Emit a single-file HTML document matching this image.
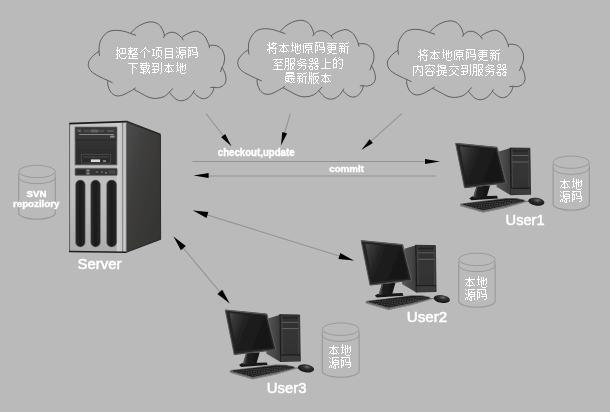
<!DOCTYPE html>
<html><head><meta charset="utf-8"><style>
html,body{margin:0;padding:0;background:#bababa;width:610px;height:412px;overflow:hidden}
#wrap{position:relative;width:610px;height:412px}
svg{position:absolute;left:0;top:0}
.lb{position:absolute;color:#fff;font-family:"Liberation Sans",sans-serif;white-space:nowrap;line-height:1;transform-origin:0 0}
.b{font-weight:bold}
</style></head><body><div id="wrap">
<svg width="610" height="412" viewBox="0 0 610 412">
<rect width="610" height="412" fill="#bababa"/>
<path d="M99.00 51.30 C99.10 49.98 98.93 45.85 99.60 43.40 C100.27 40.95 101.55 38.53 103.00 36.60 C104.45 34.67 106.12 32.85 108.30 31.80 C110.48 30.75 113.50 30.38 116.10 30.30 C118.70 30.22 121.52 30.78 123.90 31.30 C126.28 31.82 129.32 33.05 130.40 33.40 C131.40 32.42 134.30 29.10 136.40 27.50 C138.50 25.90 140.95 24.70 143.00 23.80 C145.05 22.90 146.93 22.38 148.70 22.10 C150.47 21.82 151.97 21.75 153.60 22.10 C155.23 22.45 157.13 23.17 158.50 24.20 C159.87 25.23 160.90 26.80 161.80 28.30 C162.70 29.80 163.47 31.92 163.90 33.20 C164.33 34.48 164.32 35.53 164.40 36.00 C165.02 35.50 166.58 33.62 168.10 33.00 C169.62 32.38 171.85 32.07 173.50 32.30 C175.15 32.53 176.65 33.53 178.00 34.40 C179.35 35.27 181.00 36.98 181.60 37.50 C182.52 36.90 184.98 34.92 187.10 33.90 C189.22 32.88 192.35 31.73 194.30 31.40 C196.25 31.07 197.15 31.18 198.80 31.90 C200.45 32.62 202.78 34.17 204.20 35.70 C205.62 37.23 206.50 39.50 207.30 41.10 C208.10 42.70 208.72 44.60 209.00 45.30 C210.23 45.37 214.27 45.00 216.40 45.70 C218.53 46.40 220.45 47.73 221.80 49.50 C223.15 51.27 224.15 54.03 224.50 56.30 C224.85 58.57 224.30 61.28 223.90 63.10 C223.50 64.92 222.40 66.52 222.10 67.20 C222.62 68.33 224.57 71.73 225.20 74.00 C225.83 76.27 226.23 78.88 225.90 80.80 C225.57 82.72 224.45 84.37 223.20 85.50 C221.95 86.63 219.90 87.32 218.40 87.60 C216.90 87.88 214.90 87.27 214.20 87.20 C213.85 88.13 213.10 91.13 212.10 92.80 C211.10 94.47 209.67 96.22 208.20 97.20 C206.73 98.18 204.95 98.78 203.30 98.70 C201.65 98.62 199.95 97.77 198.30 96.70 C196.65 95.63 194.22 93.03 193.40 92.30 C192.75 93.12 190.97 95.88 189.50 97.20 C188.03 98.52 186.23 99.63 184.60 100.20 C182.97 100.77 181.35 100.93 179.70 100.60 C178.05 100.27 176.43 99.58 174.70 98.20 C172.97 96.82 170.20 93.28 169.30 92.30 C168.42 93.02 166.13 95.58 164.00 96.60 C161.87 97.62 159.00 98.28 156.50 98.40 C154.00 98.52 151.67 98.20 149.00 97.30 C146.33 96.40 143.07 94.33 140.50 93.00 C137.93 91.67 134.75 89.92 133.60 89.30 C132.80 89.75 130.67 91.02 128.80 92.00 C126.93 92.98 124.53 94.58 122.40 95.20 C120.27 95.82 117.95 96.23 116.00 95.70 C114.05 95.17 112.03 93.68 110.70 92.00 C109.37 90.32 108.50 87.53 108.00 85.60 C107.50 83.67 107.75 81.27 107.70 80.40 C106.98 80.08 105.25 79.38 103.40 78.50 C101.55 77.62 98.70 76.38 96.60 75.10 C94.50 73.82 92.17 72.42 90.80 70.80 C89.43 69.18 88.65 67.10 88.40 65.40 C88.15 63.70 88.42 62.30 89.30 60.60 C90.18 58.90 92.08 56.75 93.70 55.20 C95.32 53.65 98.12 51.95 99.00 51.30 Z" fill="none" stroke="#4e4e4e" stroke-width="0.85"/>
<path d=" M99.00 51.30 L99.50 55.90 M130.40 33.40 L136.00 35.30 M164.40 36.00 L163.30 37.80 M181.60 37.50 L183.40 40.20 M209.00 45.30 L209.60 48.20 M222.10 67.20 L220.50 72.00 M214.20 87.20 L210.40 87.60 M193.40 92.30 L194.40 90.20 M169.30 92.30 L172.80 88.40 M133.60 89.30 L135.70 87.80 M107.70 80.40 L112.50 82.70" fill="none" stroke="#4e4e4e" stroke-width="0.85"/>
<path d="M248.40 49.70 C248.50 48.38 248.33 44.25 249.00 41.80 C249.67 39.35 250.95 36.93 252.40 35.00 C253.85 33.07 255.52 31.25 257.70 30.20 C259.88 29.15 262.90 28.78 265.50 28.70 C268.10 28.62 270.92 29.18 273.30 29.70 C275.68 30.22 278.72 31.45 279.80 31.80 C280.80 30.82 283.70 27.50 285.80 25.90 C287.90 24.30 290.35 23.10 292.40 22.20 C294.45 21.30 296.33 20.78 298.10 20.50 C299.87 20.22 301.37 20.15 303.00 20.50 C304.63 20.85 306.53 21.57 307.90 22.60 C309.27 23.63 310.30 25.20 311.20 26.70 C312.10 28.20 312.87 30.32 313.30 31.60 C313.73 32.88 313.72 33.93 313.80 34.40 C314.42 33.90 315.98 32.02 317.50 31.40 C319.02 30.78 321.25 30.47 322.90 30.70 C324.55 30.93 326.05 31.93 327.40 32.80 C328.75 33.67 330.40 35.38 331.00 35.90 C331.92 35.30 334.38 33.32 336.50 32.30 C338.62 31.28 341.75 30.13 343.70 29.80 C345.65 29.47 346.55 29.58 348.20 30.30 C349.85 31.02 352.18 32.57 353.60 34.10 C355.02 35.63 355.90 37.90 356.70 39.50 C357.50 41.10 358.12 43.00 358.40 43.70 C359.63 43.77 363.67 43.40 365.80 44.10 C367.93 44.80 369.85 46.13 371.20 47.90 C372.55 49.67 373.55 52.43 373.90 54.70 C374.25 56.97 373.70 59.68 373.30 61.50 C372.90 63.32 371.80 64.92 371.50 65.60 C372.02 66.73 373.97 70.13 374.60 72.40 C375.23 74.67 375.63 77.28 375.30 79.20 C374.97 81.12 373.85 82.77 372.60 83.90 C371.35 85.03 369.30 85.72 367.80 86.00 C366.30 86.28 364.30 85.67 363.60 85.60 C363.25 86.53 362.50 89.53 361.50 91.20 C360.50 92.87 359.07 94.62 357.60 95.60 C356.13 96.58 354.35 97.18 352.70 97.10 C351.05 97.02 349.35 96.17 347.70 95.10 C346.05 94.03 343.62 91.43 342.80 90.70 C342.15 91.52 340.37 94.28 338.90 95.60 C337.43 96.92 335.63 98.03 334.00 98.60 C332.37 99.17 330.75 99.33 329.10 99.00 C327.45 98.67 325.83 97.98 324.10 96.60 C322.37 95.22 319.60 91.68 318.70 90.70 C317.82 91.42 315.53 93.98 313.40 95.00 C311.27 96.02 308.40 96.68 305.90 96.80 C303.40 96.92 301.07 96.60 298.40 95.70 C295.73 94.80 292.47 92.73 289.90 91.40 C287.33 90.07 284.15 88.32 283.00 87.70 C282.20 88.15 280.07 89.42 278.20 90.40 C276.33 91.38 273.93 92.98 271.80 93.60 C269.67 94.22 267.35 94.63 265.40 94.10 C263.45 93.57 261.43 92.08 260.10 90.40 C258.77 88.72 257.90 85.93 257.40 84.00 C256.90 82.07 257.15 79.67 257.10 78.80 C256.38 78.48 254.65 77.78 252.80 76.90 C250.95 76.02 248.10 74.78 246.00 73.50 C243.90 72.22 241.57 70.82 240.20 69.20 C238.83 67.58 238.05 65.50 237.80 63.80 C237.55 62.10 237.82 60.70 238.70 59.00 C239.58 57.30 241.48 55.15 243.10 53.60 C244.72 52.05 247.52 50.35 248.40 49.70 Z" fill="none" stroke="#4e4e4e" stroke-width="0.85"/>
<path d=" M248.40 49.70 L248.90 54.30 M279.80 31.80 L285.40 33.70 M313.80 34.40 L312.70 36.20 M331.00 35.90 L332.80 38.60 M358.40 43.70 L359.00 46.60 M371.50 65.60 L369.90 70.40 M363.60 85.60 L359.80 86.00 M342.80 90.70 L343.80 88.60 M318.70 90.70 L322.20 86.80 M283.00 87.70 L285.10 86.20 M257.10 78.80 L261.90 81.10" fill="none" stroke="#4e4e4e" stroke-width="0.85"/>
<path d="M398.00 50.30 C398.10 48.98 397.93 44.85 398.60 42.40 C399.27 39.95 400.55 37.53 402.00 35.60 C403.45 33.67 405.12 31.85 407.30 30.80 C409.48 29.75 412.50 29.38 415.10 29.30 C417.70 29.22 420.52 29.78 422.90 30.30 C425.28 30.82 428.32 32.05 429.40 32.40 C430.40 31.42 433.30 28.10 435.40 26.50 C437.50 24.90 439.95 23.70 442.00 22.80 C444.05 21.90 445.93 21.38 447.70 21.10 C449.47 20.82 450.97 20.75 452.60 21.10 C454.23 21.45 456.13 22.17 457.50 23.20 C458.87 24.23 459.90 25.80 460.80 27.30 C461.70 28.80 462.47 30.92 462.90 32.20 C463.33 33.48 463.32 34.53 463.40 35.00 C464.02 34.50 465.58 32.62 467.10 32.00 C468.62 31.38 470.85 31.07 472.50 31.30 C474.15 31.53 475.65 32.53 477.00 33.40 C478.35 34.27 480.00 35.98 480.60 36.50 C481.52 35.90 483.98 33.92 486.10 32.90 C488.22 31.88 491.35 30.73 493.30 30.40 C495.25 30.07 496.15 30.18 497.80 30.90 C499.45 31.62 501.78 33.17 503.20 34.70 C504.62 36.23 505.50 38.50 506.30 40.10 C507.10 41.70 507.72 43.60 508.00 44.30 C509.23 44.37 513.27 44.00 515.40 44.70 C517.53 45.40 519.45 46.73 520.80 48.50 C522.15 50.27 523.15 53.03 523.50 55.30 C523.85 57.57 523.30 60.28 522.90 62.10 C522.50 63.92 521.40 65.52 521.10 66.20 C521.62 67.33 523.57 70.73 524.20 73.00 C524.83 75.27 525.23 77.88 524.90 79.80 C524.57 81.72 523.45 83.37 522.20 84.50 C520.95 85.63 518.90 86.32 517.40 86.60 C515.90 86.88 513.90 86.27 513.20 86.20 C512.85 87.13 512.10 90.13 511.10 91.80 C510.10 93.47 508.67 95.22 507.20 96.20 C505.73 97.18 503.95 97.78 502.30 97.70 C500.65 97.62 498.95 96.77 497.30 95.70 C495.65 94.63 493.22 92.03 492.40 91.30 C491.75 92.12 489.97 94.88 488.50 96.20 C487.03 97.52 485.23 98.63 483.60 99.20 C481.97 99.77 480.35 99.93 478.70 99.60 C477.05 99.27 475.43 98.58 473.70 97.20 C471.97 95.82 469.20 92.28 468.30 91.30 C467.42 92.02 465.13 94.58 463.00 95.60 C460.87 96.62 458.00 97.28 455.50 97.40 C453.00 97.52 450.67 97.20 448.00 96.30 C445.33 95.40 442.07 93.33 439.50 92.00 C436.93 90.67 433.75 88.92 432.60 88.30 C431.80 88.75 429.67 90.02 427.80 91.00 C425.93 91.98 423.53 93.58 421.40 94.20 C419.27 94.82 416.95 95.23 415.00 94.70 C413.05 94.17 411.03 92.68 409.70 91.00 C408.37 89.32 407.50 86.53 407.00 84.60 C406.50 82.67 406.75 80.27 406.70 79.40 C405.98 79.08 404.25 78.38 402.40 77.50 C400.55 76.62 397.70 75.38 395.60 74.10 C393.50 72.82 391.17 71.42 389.80 69.80 C388.43 68.18 387.65 66.10 387.40 64.40 C387.15 62.70 387.42 61.30 388.30 59.60 C389.18 57.90 391.08 55.75 392.70 54.20 C394.32 52.65 397.12 50.95 398.00 50.30 Z" fill="none" stroke="#4e4e4e" stroke-width="0.85"/>
<path d=" M398.00 50.30 L398.50 54.90 M429.40 32.40 L435.00 34.30 M463.40 35.00 L462.30 36.80 M480.60 36.50 L482.40 39.20 M508.00 44.30 L508.60 47.20 M521.10 66.20 L519.50 71.00 M513.20 86.20 L509.40 86.60 M492.40 91.30 L493.40 89.20 M468.30 91.30 L471.80 87.40 M432.60 88.30 L434.70 86.80 M406.70 79.40 L411.50 81.70" fill="none" stroke="#4e4e4e" stroke-width="0.85"/>
<path d="M117 47h1v1h-1zM130 47h1v1h-1zM145 47h1v1h-1zM156 47h6v1h-6zM176 47h1v1h-1zM179 47h7v1h-7zM188 47h9v1h-9zM117 48h1v1h-1zM120 48h6v1h-6zM128 48h5v1h-5zM134 48h4v1h-4zM144 48h2v1h-2zM158 48h1v1h-1zM165 48h8v1h-8zM177 48h1v1h-1zM179 48h1v1h-1zM189 48h1v1h-1zM196 48h1v1h-1zM117 49h1v1h-1zM119 49h1v1h-1zM122 49h1v1h-1zM125 49h1v1h-1zM130 49h1v1h-1zM134 49h1v1h-1zM136 49h1v1h-1zM143 49h1v1h-1zM146 49h1v1h-1zM152 49h3v1h-3zM158 49h1v1h-1zM165 49h1v1h-1zM172 49h1v1h-1zM179 49h1v1h-1zM182 49h1v1h-1zM188 49h1v1h-1zM192 49h1v1h-1zM196 49h1v1h-1zM116 50h4v1h-4zM122 50h1v1h-1zM125 50h1v1h-1zM128 50h7v1h-7zM136 50h1v1h-1zM142 50h1v1h-1zM147 50h1v1h-1zM153 50h1v1h-1zM156 50h6v1h-6zM165 50h1v1h-1zM172 50h1v1h-1zM179 50h1v1h-1zM181 50h5v1h-5zM188 50h3v1h-3zM192 50h1v1h-1zM196 50h1v1h-1zM117 51h1v1h-1zM119 51h1v1h-1zM122 51h1v1h-1zM125 51h1v1h-1zM129 51h3v1h-3zM135 51h1v1h-1zM141 51h1v1h-1zM144 51h1v1h-1zM148 51h2v1h-2zM153 51h1v1h-1zM156 51h1v1h-1zM161 51h1v1h-1zM165 51h8v1h-8zM176 51h1v1h-1zM179 51h2v1h-2zM185 51h1v1h-1zM188 51h1v1h-1zM190 51h1v1h-1zM192 51h1v1h-1zM196 51h1v1h-1zM117 52h1v1h-1zM119 52h1v1h-1zM122 52h1v1h-1zM125 52h1v1h-1zM129 52h3v1h-3zM135 52h2v1h-2zM140 52h1v1h-1zM144 52h1v1h-1zM153 52h1v1h-1zM156 52h1v1h-1zM158 52h1v1h-1zM161 52h1v1h-1zM165 52h1v1h-1zM172 52h1v1h-1zM177 52h1v1h-1zM179 52h7v1h-7zM188 52h1v1h-1zM190 52h1v1h-1zM193 52h5v1h-5zM117 53h2v1h-2zM120 53h6v1h-6zM128 53h1v1h-1zM130 53h1v1h-1zM133 53h2v1h-2zM137 53h1v1h-1zM144 53h1v1h-1zM153 53h1v1h-1zM156 53h1v1h-1zM158 53h1v1h-1zM161 53h1v1h-1zM165 53h1v1h-1zM172 53h1v1h-1zM179 53h2v1h-2zM185 53h1v1h-1zM188 53h1v1h-1zM190 53h1v1h-1zM197 53h1v1h-1zM116 54h2v1h-2zM119 54h1v1h-1zM128 54h10v1h-10zM144 54h1v1h-1zM153 54h1v1h-1zM156 54h1v1h-1zM158 54h1v1h-1zM161 54h1v1h-1zM165 54h8v1h-8zM179 54h1v1h-1zM181 54h5v1h-5zM188 54h1v1h-1zM190 54h1v1h-1zM192 54h6v1h-6zM117 55h1v1h-1zM119 55h1v1h-1zM132 55h1v1h-1zM144 55h1v1h-1zM152 55h3v1h-3zM156 55h1v1h-1zM158 55h1v1h-1zM161 55h1v1h-1zM165 55h1v1h-1zM172 55h1v1h-1zM177 55h2v1h-2zM181 55h2v1h-2zM188 55h3v1h-3zM197 55h1v1h-1zM117 56h1v1h-1zM119 56h1v1h-1zM126 56h1v1h-1zM129 56h1v1h-1zM132 56h5v1h-5zM144 56h1v1h-1zM158 56h2v1h-2zM165 56h1v1h-1zM172 56h1v1h-1zM176 56h1v1h-1zM178 56h1v1h-1zM180 56h1v1h-1zM182 56h1v1h-1zM185 56h1v1h-1zM188 56h1v1h-1zM197 56h1v1h-1zM117 57h1v1h-1zM120 57h1v1h-1zM125 57h1v1h-1zM129 57h1v1h-1zM132 57h1v1h-1zM144 57h1v1h-1zM157 57h1v1h-1zM160 57h1v1h-1zM165 57h8v1h-8zM176 57h1v1h-1zM178 57h1v1h-1zM180 57h1v1h-1zM182 57h1v1h-1zM185 57h1v1h-1zM188 57h1v1h-1zM195 57h2v1h-2zM116 58h2v1h-2zM121 58h5v1h-5zM128 58h10v1h-10zM155 58h2v1h-2zM161 58h1v1h-1zM165 58h1v1h-1zM172 58h1v1h-1zM181 58h2v1h-2zM146 62h1v1h-1zM161 62h1v1h-1zM177 62h1v1h-1zM128 63h10v1h-10zM140 63h7v1h-7zM148 63h1v1h-1zM152 63h7v1h-7zM161 63h1v1h-1zM168 63h1v1h-1zM177 63h1v1h-1zM180 63h1v1h-1zM182 63h1v1h-1zM132 64h1v1h-1zM142 64h1v1h-1zM146 64h1v1h-1zM153 64h1v1h-1zM158 64h1v1h-1zM161 64h1v1h-1zM168 64h1v1h-1zM177 64h1v1h-1zM180 64h1v1h-1zM182 64h1v1h-1zM185 64h1v1h-1zM132 65h1v1h-1zM140 65h10v1h-10zM153 65h1v1h-1zM156 65h1v1h-1zM158 65h1v1h-1zM161 65h1v1h-1zM164 65h10v1h-10zM176 65h3v1h-3zM180 65h1v1h-1zM182 65h1v1h-1zM184 65h2v1h-2zM132 66h2v1h-2zM141 66h1v1h-1zM146 66h1v1h-1zM149 66h1v1h-1zM152 66h7v1h-7zM161 66h1v1h-1zM167 66h3v1h-3zM177 66h1v1h-1zM180 66h4v1h-4zM185 66h1v1h-1zM132 67h1v1h-1zM134 67h2v1h-2zM140 67h7v1h-7zM148 67h1v1h-1zM158 67h1v1h-1zM161 67h1v1h-1zM167 67h2v1h-2zM170 67h1v1h-1zM177 67h1v1h-1zM179 67h2v1h-2zM182 67h1v1h-1zM185 67h1v1h-1zM132 68h1v1h-1zM136 68h1v1h-1zM141 68h1v1h-1zM143 68h1v1h-1zM146 68h1v1h-1zM148 68h1v1h-1zM154 68h1v1h-1zM158 68h1v1h-1zM161 68h1v1h-1zM166 68h1v1h-1zM168 68h1v1h-1zM171 68h1v1h-1zM177 68h1v1h-1zM180 68h1v1h-1zM182 68h1v1h-1zM185 68h1v1h-1zM132 69h1v1h-1zM141 69h5v1h-5zM147 69h2v1h-2zM152 69h7v1h-7zM161 69h1v1h-1zM165 69h1v1h-1zM168 69h1v1h-1zM171 69h1v1h-1zM177 69h1v1h-1zM180 69h1v1h-1zM182 69h1v1h-1zM185 69h1v1h-1zM132 70h1v1h-1zM143 70h1v1h-1zM147 70h1v1h-1zM154 70h1v1h-1zM158 70h1v1h-1zM161 70h1v1h-1zM165 70h1v1h-1zM168 70h1v1h-1zM172 70h1v1h-1zM177 70h2v1h-2zM180 70h1v1h-1zM182 70h1v1h-1zM184 70h1v1h-1zM132 71h1v1h-1zM143 71h3v1h-3zM147 71h1v1h-1zM149 71h1v1h-1zM154 71h1v1h-1zM157 71h1v1h-1zM161 71h1v1h-1zM164 71h1v1h-1zM166 71h6v1h-6zM173 71h1v1h-1zM176 71h1v1h-1zM180 71h1v1h-1zM132 72h1v1h-1zM140 72h4v1h-4zM146 72h1v1h-1zM148 72h2v1h-2zM152 72h5v1h-5zM161 72h1v1h-1zM168 72h1v1h-1zM180 72h1v1h-1zM185 72h1v1h-1zM132 73h1v1h-1zM143 73h1v1h-1zM145 73h1v1h-1zM149 73h1v1h-1zM160 73h1v1h-1zM181 73h4v1h-4zM269 42h1v1h-1zM273 42h1v1h-1zM292 42h1v1h-1zM315 42h9v1h-9zM348 42h1v1h-1zM269 43h1v1h-1zM272 43h5v1h-5zM283 43h1v1h-1zM292 43h1v1h-1zM295 43h1v1h-1zM297 43h1v1h-1zM304 43h9v1h-9zM316 43h1v1h-1zM323 43h1v1h-1zM327 43h10v1h-10zM339 43h5v1h-5zM345 43h3v1h-3zM267 44h1v1h-1zM269 44h1v1h-1zM271 44h2v1h-2zM275 44h1v1h-1zM283 44h1v1h-1zM292 44h1v1h-1zM295 44h1v1h-1zM297 44h1v1h-1zM300 44h1v1h-1zM303 44h1v1h-1zM308 44h1v1h-1zM315 44h1v1h-1zM319 44h1v1h-1zM323 44h1v1h-1zM331 44h1v1h-1zM344 44h1v1h-1zM268 45h2v1h-2zM273 45h2v1h-2zM279 45h10v1h-10zM291 45h3v1h-3zM295 45h1v1h-1zM297 45h1v1h-1zM299 45h2v1h-2zM303 45h1v1h-1zM305 45h7v1h-7zM315 45h3v1h-3zM319 45h1v1h-1zM323 45h1v1h-1zM328 45h8v1h-8zM340 45h1v1h-1zM342 45h1v1h-1zM344 45h1v1h-1zM269 46h1v1h-1zM273 46h1v1h-1zM282 46h3v1h-3zM292 46h1v1h-1zM295 46h4v1h-4zM300 46h1v1h-1zM303 46h1v1h-1zM305 46h1v1h-1zM311 46h1v1h-1zM315 46h1v1h-1zM317 46h1v1h-1zM319 46h1v1h-1zM323 46h1v1h-1zM327 46h1v1h-1zM331 46h1v1h-1zM335 46h1v1h-1zM339 46h5v1h-5zM345 46h4v1h-4zM269 47h4v1h-4zM275 47h1v1h-1zM282 47h2v1h-2zM285 47h1v1h-1zM292 47h1v1h-1zM294 47h2v1h-2zM297 47h1v1h-1zM300 47h1v1h-1zM303 47h1v1h-1zM305 47h7v1h-7zM315 47h1v1h-1zM317 47h1v1h-1zM320 47h5v1h-5zM328 47h8v1h-8zM341 47h1v1h-1zM344 47h1v1h-1zM347 47h1v1h-1zM269 48h8v1h-8zM281 48h1v1h-1zM283 48h1v1h-1zM286 48h1v1h-1zM292 48h1v1h-1zM295 48h1v1h-1zM297 48h1v1h-1zM300 48h1v1h-1zM303 48h1v1h-1zM305 48h1v1h-1zM311 48h1v1h-1zM315 48h1v1h-1zM317 48h1v1h-1zM324 48h1v1h-1zM327 48h1v1h-1zM331 48h1v1h-1zM335 48h1v1h-1zM339 48h6v1h-6zM347 48h1v1h-1zM267 49h3v1h-3zM275 49h1v1h-1zM280 49h1v1h-1zM283 49h1v1h-1zM286 49h1v1h-1zM292 49h1v1h-1zM295 49h1v1h-1zM297 49h1v1h-1zM300 49h1v1h-1zM303 49h1v1h-1zM306 49h6v1h-6zM315 49h1v1h-1zM317 49h1v1h-1zM319 49h6v1h-6zM328 49h8v1h-8zM341 49h1v1h-1zM344 49h1v1h-1zM347 49h1v1h-1zM267 50h1v1h-1zM269 50h1v1h-1zM271 50h1v1h-1zM275 50h1v1h-1zM280 50h1v1h-1zM283 50h1v1h-1zM287 50h1v1h-1zM292 50h2v1h-2zM295 50h1v1h-1zM297 50h1v1h-1zM299 50h1v1h-1zM303 50h1v1h-1zM306 50h1v1h-1zM308 50h1v1h-1zM315 50h3v1h-3zM324 50h1v1h-1zM328 50h1v1h-1zM331 50h1v1h-1zM339 50h1v1h-1zM341 50h2v1h-2zM344 50h1v1h-1zM347 50h1v1h-1zM269 51h1v1h-1zM272 51h1v1h-1zM275 51h1v1h-1zM279 51h1v1h-1zM281 51h6v1h-6zM288 51h1v1h-1zM291 51h1v1h-1zM295 51h1v1h-1zM303 51h1v1h-1zM305 51h1v1h-1zM308 51h1v1h-1zM311 51h1v1h-1zM315 51h1v1h-1zM324 51h1v1h-1zM329 51h2v1h-2zM339 51h1v1h-1zM341 51h1v1h-1zM343 51h2v1h-2zM347 51h1v1h-1zM269 52h1v1h-1zM275 52h1v1h-1zM283 52h1v1h-1zM295 52h1v1h-1zM300 52h1v1h-1zM303 52h1v1h-1zM305 52h1v1h-1zM308 52h1v1h-1zM312 52h1v1h-1zM315 52h1v1h-1zM322 52h2v1h-2zM329 52h3v1h-3zM341 52h1v1h-1zM344 52h1v1h-1zM347 52h1v1h-1zM269 53h1v1h-1zM273 53h3v1h-3zM296 53h4v1h-4zM308 53h1v1h-1zM327 53h2v1h-2zM332 53h5v1h-5zM340 53h1v1h-1zM347 53h1v1h-1zM335 57h1v1h-1zM339 57h1v1h-1zM285 58h4v1h-4zM290 58h5v1h-5zM300 58h1v1h-1zM310 58h3v1h-3zM315 58h3v1h-3zM325 58h1v1h-1zM334 58h1v1h-1zM338 58h1v1h-1zM273 59h10v1h-10zM285 59h1v1h-1zM288 59h1v1h-1zM290 59h1v1h-1zM294 59h1v1h-1zM300 59h6v1h-6zM309 59h1v1h-1zM312 59h1v1h-1zM314 59h1v1h-1zM317 59h1v1h-1zM325 59h1v1h-1zM333 59h4v1h-4zM339 59h4v1h-4zM276 60h1v1h-1zM285 60h1v1h-1zM288 60h1v1h-1zM290 60h1v1h-1zM294 60h1v1h-1zM299 60h1v1h-1zM305 60h1v1h-1zM309 60h1v1h-1zM312 60h1v1h-1zM314 60h1v1h-1zM317 60h1v1h-1zM325 60h1v1h-1zM333 60h1v1h-1zM336 60h1v1h-1zM338 60h1v1h-1zM342 60h1v1h-1zM275 61h1v1h-1zM280 61h1v1h-1zM285 61h4v1h-4zM290 61h1v1h-1zM292 61h1v1h-1zM294 61h1v1h-1zM297 61h2v1h-2zM300 61h1v1h-1zM303 61h2v1h-2zM310 61h3v1h-3zM315 61h3v1h-3zM325 61h1v1h-1zM333 61h1v1h-1zM336 61h2v1h-2zM342 61h1v1h-1zM274 62h1v1h-1zM277 62h5v1h-5zM285 62h1v1h-1zM288 62h1v1h-1zM290 62h1v1h-1zM293 62h1v1h-1zM301 62h2v1h-2zM313 62h1v1h-1zM315 62h1v1h-1zM325 62h6v1h-6zM333 62h1v1h-1zM336 62h1v1h-1zM342 62h1v1h-1zM275 63h2v1h-2zM282 63h1v1h-1zM285 63h1v1h-1zM288 63h1v1h-1zM290 63h5v1h-5zM298 63h3v1h-3zM303 63h4v1h-4zM309 63h10v1h-10zM325 63h1v1h-1zM333 63h4v1h-4zM339 63h1v1h-1zM342 63h1v1h-1zM277 64h1v1h-1zM285 64h1v1h-1zM288 64h1v1h-1zM290 64h2v1h-2zM294 64h1v1h-1zM297 64h1v1h-1zM301 64h1v1h-1zM311 64h1v1h-1zM315 64h1v1h-1zM325 64h1v1h-1zM333 64h1v1h-1zM336 64h1v1h-1zM340 64h1v1h-1zM342 64h1v1h-1zM274 65h8v1h-8zM285 65h4v1h-4zM290 65h2v1h-2zM294 65h1v1h-1zM298 65h8v1h-8zM310 65h1v1h-1zM316 65h2v1h-2zM325 65h1v1h-1zM333 65h1v1h-1zM336 65h1v1h-1zM342 65h1v1h-1zM277 66h1v1h-1zM285 66h1v1h-1zM288 66h1v1h-1zM290 66h1v1h-1zM292 66h2v1h-2zM301 66h1v1h-1zM305 66h1v1h-1zM308 66h5v1h-5zM315 66h4v1h-4zM325 66h1v1h-1zM333 66h1v1h-1zM336 66h1v1h-1zM342 66h1v1h-1zM277 67h1v1h-1zM285 67h1v1h-1zM288 67h1v1h-1zM290 67h1v1h-1zM292 67h1v1h-1zM300 67h1v1h-1zM305 67h1v1h-1zM309 67h1v1h-1zM312 67h1v1h-1zM314 67h1v1h-1zM317 67h1v1h-1zM325 67h1v1h-1zM333 67h4v1h-4zM341 67h1v1h-1zM277 68h1v1h-1zM284 68h1v1h-1zM288 68h1v1h-1zM290 68h1v1h-1zM292 68h2v1h-2zM299 68h1v1h-1zM305 68h1v1h-1zM309 68h1v1h-1zM312 68h1v1h-1zM314 68h1v1h-1zM317 68h1v1h-1zM321 68h10v1h-10zM333 68h1v1h-1zM339 68h3v1h-3zM273 69h10v1h-10zM284 69h1v1h-1zM287 69h2v1h-2zM290 69h2v1h-2zM294 69h1v1h-1zM297 69h2v1h-2zM303 69h2v1h-2zM310 69h3v1h-3zM315 69h3v1h-3zM286 72h8v1h-8zM306 72h1v1h-1zM309 72h1v1h-1zM311 72h1v1h-1zM318 72h1v1h-1zM286 73h8v1h-8zM297 73h5v1h-5zM303 73h3v1h-3zM309 73h1v1h-1zM311 73h1v1h-1zM313 73h5v1h-5zM325 73h1v1h-1zM286 74h1v1h-1zM293 74h1v1h-1zM302 74h1v1h-1zM309 74h1v1h-1zM311 74h1v1h-1zM313 74h1v1h-1zM325 74h1v1h-1zM287 75h6v1h-6zM298 75h1v1h-1zM300 75h1v1h-1zM302 75h1v1h-1zM309 75h1v1h-1zM311 75h1v1h-1zM313 75h1v1h-1zM321 75h10v1h-10zM285 76h10v1h-10zM297 76h5v1h-5zM303 76h4v1h-4zM309 76h4v1h-4zM314 76h5v1h-5zM324 76h3v1h-3zM285 77h1v1h-1zM288 77h1v1h-1zM299 77h1v1h-1zM302 77h1v1h-1zM305 77h1v1h-1zM309 77h1v1h-1zM313 77h1v1h-1zM315 77h1v1h-1zM318 77h1v1h-1zM324 77h2v1h-2zM327 77h1v1h-1zM285 78h4v1h-4zM290 78h5v1h-5zM297 78h6v1h-6zM305 78h1v1h-1zM309 78h3v1h-3zM313 78h1v1h-1zM315 78h1v1h-1zM318 78h1v1h-1zM323 78h1v1h-1zM325 78h1v1h-1zM328 78h1v1h-1zM285 79h1v1h-1zM288 79h1v1h-1zM291 79h1v1h-1zM293 79h1v1h-1zM299 79h1v1h-1zM302 79h1v1h-1zM305 79h1v1h-1zM309 79h1v1h-1zM311 79h1v1h-1zM313 79h1v1h-1zM315 79h1v1h-1zM317 79h1v1h-1zM322 79h1v1h-1zM325 79h1v1h-1zM328 79h1v1h-1zM285 80h4v1h-4zM291 80h1v1h-1zM293 80h1v1h-1zM297 80h1v1h-1zM299 80h2v1h-2zM302 80h1v1h-1zM305 80h1v1h-1zM309 80h1v1h-1zM311 80h1v1h-1zM313 80h1v1h-1zM316 80h2v1h-2zM322 80h1v1h-1zM325 80h1v1h-1zM329 80h1v1h-1zM286 81h4v1h-4zM292 81h1v1h-1zM297 81h1v1h-1zM299 81h1v1h-1zM301 81h2v1h-2zM305 81h1v1h-1zM309 81h1v1h-1zM311 81h1v1h-1zM313 81h1v1h-1zM316 81h1v1h-1zM321 81h1v1h-1zM323 81h6v1h-6zM330 81h1v1h-1zM285 82h1v1h-1zM290 82h2v1h-2zM293 82h2v1h-2zM299 82h1v1h-1zM302 82h1v1h-1zM305 82h1v1h-1zM308 82h1v1h-1zM311 82h1v1h-1zM313 82h1v1h-1zM315 82h1v1h-1zM317 82h1v1h-1zM325 82h1v1h-1zM298 83h1v1h-1zM305 83h1v1h-1zM308 83h1v1h-1zM311 83h1v1h-1zM313 83h2v1h-2zM318 83h1v1h-1zM420 49h1v1h-1zM424 49h1v1h-1zM443 49h1v1h-1zM466 49h9v1h-9zM499 49h1v1h-1zM420 50h1v1h-1zM423 50h5v1h-5zM434 50h1v1h-1zM443 50h1v1h-1zM446 50h1v1h-1zM448 50h1v1h-1zM455 50h9v1h-9zM467 50h1v1h-1zM474 50h1v1h-1zM478 50h10v1h-10zM490 50h5v1h-5zM496 50h3v1h-3zM418 51h1v1h-1zM420 51h1v1h-1zM422 51h2v1h-2zM426 51h1v1h-1zM434 51h1v1h-1zM443 51h1v1h-1zM446 51h1v1h-1zM448 51h1v1h-1zM451 51h1v1h-1zM454 51h1v1h-1zM459 51h1v1h-1zM466 51h1v1h-1zM470 51h1v1h-1zM474 51h1v1h-1zM482 51h1v1h-1zM495 51h1v1h-1zM419 52h2v1h-2zM424 52h2v1h-2zM430 52h10v1h-10zM442 52h3v1h-3zM446 52h1v1h-1zM448 52h1v1h-1zM450 52h2v1h-2zM454 52h1v1h-1zM456 52h7v1h-7zM466 52h3v1h-3zM470 52h1v1h-1zM474 52h1v1h-1zM479 52h8v1h-8zM491 52h1v1h-1zM493 52h1v1h-1zM495 52h1v1h-1zM420 53h1v1h-1zM424 53h1v1h-1zM433 53h3v1h-3zM443 53h1v1h-1zM446 53h4v1h-4zM451 53h1v1h-1zM454 53h1v1h-1zM456 53h1v1h-1zM462 53h1v1h-1zM466 53h1v1h-1zM468 53h1v1h-1zM470 53h1v1h-1zM474 53h1v1h-1zM478 53h1v1h-1zM482 53h1v1h-1zM486 53h1v1h-1zM490 53h5v1h-5zM496 53h4v1h-4zM420 54h4v1h-4zM426 54h1v1h-1zM433 54h2v1h-2zM436 54h1v1h-1zM443 54h1v1h-1zM445 54h2v1h-2zM448 54h1v1h-1zM451 54h1v1h-1zM454 54h1v1h-1zM456 54h7v1h-7zM466 54h1v1h-1zM468 54h1v1h-1zM471 54h5v1h-5zM479 54h8v1h-8zM492 54h1v1h-1zM495 54h1v1h-1zM498 54h1v1h-1zM420 55h8v1h-8zM432 55h1v1h-1zM434 55h1v1h-1zM437 55h1v1h-1zM443 55h1v1h-1zM446 55h1v1h-1zM448 55h1v1h-1zM451 55h1v1h-1zM454 55h1v1h-1zM456 55h1v1h-1zM462 55h1v1h-1zM466 55h1v1h-1zM468 55h1v1h-1zM475 55h1v1h-1zM478 55h1v1h-1zM482 55h1v1h-1zM486 55h1v1h-1zM490 55h6v1h-6zM498 55h1v1h-1zM418 56h3v1h-3zM426 56h1v1h-1zM431 56h1v1h-1zM434 56h1v1h-1zM437 56h1v1h-1zM443 56h1v1h-1zM446 56h1v1h-1zM448 56h1v1h-1zM451 56h1v1h-1zM454 56h1v1h-1zM457 56h6v1h-6zM466 56h1v1h-1zM468 56h1v1h-1zM470 56h6v1h-6zM479 56h8v1h-8zM492 56h1v1h-1zM495 56h1v1h-1zM498 56h1v1h-1zM418 57h1v1h-1zM420 57h1v1h-1zM422 57h1v1h-1zM426 57h1v1h-1zM431 57h1v1h-1zM434 57h1v1h-1zM438 57h1v1h-1zM443 57h2v1h-2zM446 57h1v1h-1zM448 57h1v1h-1zM450 57h1v1h-1zM454 57h1v1h-1zM457 57h1v1h-1zM459 57h1v1h-1zM466 57h3v1h-3zM475 57h1v1h-1zM479 57h1v1h-1zM482 57h1v1h-1zM490 57h1v1h-1zM492 57h2v1h-2zM495 57h1v1h-1zM498 57h1v1h-1zM420 58h1v1h-1zM423 58h1v1h-1zM426 58h1v1h-1zM430 58h1v1h-1zM432 58h6v1h-6zM439 58h1v1h-1zM442 58h1v1h-1zM446 58h1v1h-1zM454 58h1v1h-1zM456 58h1v1h-1zM459 58h1v1h-1zM462 58h1v1h-1zM466 58h1v1h-1zM475 58h1v1h-1zM480 58h2v1h-2zM490 58h1v1h-1zM492 58h1v1h-1zM494 58h2v1h-2zM498 58h1v1h-1zM420 59h1v1h-1zM426 59h1v1h-1zM434 59h1v1h-1zM446 59h1v1h-1zM451 59h1v1h-1zM454 59h1v1h-1zM456 59h1v1h-1zM459 59h1v1h-1zM463 59h1v1h-1zM466 59h1v1h-1zM473 59h2v1h-2zM480 59h3v1h-3zM492 59h1v1h-1zM495 59h1v1h-1zM498 59h1v1h-1zM420 60h1v1h-1zM424 60h3v1h-3zM447 60h4v1h-4zM459 60h1v1h-1zM478 60h2v1h-2zM483 60h5v1h-5zM491 60h1v1h-1zM498 60h1v1h-1zM429 64h1v1h-1zM438 64h1v1h-1zM453 64h1v1h-1zM470 64h1v1h-1zM473 64h4v1h-4zM478 64h5v1h-5zM488 64h1v1h-1zM498 64h3v1h-3zM503 64h3v1h-3zM417 65h1v1h-1zM425 65h10v1h-10zM438 65h1v1h-1zM440 65h6v1h-6zM461 65h7v1h-7zM470 65h1v1h-1zM473 65h1v1h-1zM476 65h1v1h-1zM478 65h1v1h-1zM482 65h1v1h-1zM488 65h6v1h-6zM497 65h1v1h-1zM500 65h1v1h-1zM502 65h1v1h-1zM505 65h1v1h-1zM413 66h10v1h-10zM425 66h1v1h-1zM434 66h1v1h-1zM437 66h4v1h-4zM445 66h1v1h-1zM449 66h10v1h-10zM462 66h1v1h-1zM467 66h1v1h-1zM470 66h1v1h-1zM473 66h1v1h-1zM476 66h1v1h-1zM478 66h1v1h-1zM482 66h1v1h-1zM487 66h1v1h-1zM493 66h1v1h-1zM497 66h1v1h-1zM500 66h1v1h-1zM502 66h1v1h-1zM505 66h1v1h-1zM413 67h1v1h-1zM417 67h1v1h-1zM422 67h1v1h-1zM427 67h1v1h-1zM432 67h1v1h-1zM438 67h1v1h-1zM440 67h6v1h-6zM462 67h1v1h-1zM465 67h1v1h-1zM467 67h1v1h-1zM470 67h1v1h-1zM473 67h4v1h-4zM478 67h1v1h-1zM480 67h1v1h-1zM482 67h1v1h-1zM485 67h2v1h-2zM488 67h1v1h-1zM491 67h2v1h-2zM498 67h3v1h-3zM503 67h3v1h-3zM413 68h1v1h-1zM417 68h1v1h-1zM422 68h1v1h-1zM426 68h1v1h-1zM429 68h1v1h-1zM433 68h1v1h-1zM438 68h1v1h-1zM441 68h5v1h-5zM451 68h1v1h-1zM456 68h2v1h-2zM461 68h7v1h-7zM470 68h1v1h-1zM473 68h1v1h-1zM476 68h1v1h-1zM478 68h1v1h-1zM481 68h1v1h-1zM489 68h2v1h-2zM501 68h1v1h-1zM503 68h1v1h-1zM413 69h1v1h-1zM417 69h2v1h-2zM422 69h1v1h-1zM425 69h1v1h-1zM428 69h1v1h-1zM430 69h1v1h-1zM434 69h1v1h-1zM438 69h1v1h-1zM450 69h1v1h-1zM458 69h1v1h-1zM467 69h1v1h-1zM470 69h1v1h-1zM473 69h1v1h-1zM476 69h1v1h-1zM478 69h5v1h-5zM486 69h3v1h-3zM491 69h4v1h-4zM497 69h10v1h-10zM413 70h1v1h-1zM416 70h1v1h-1zM419 70h1v1h-1zM422 70h1v1h-1zM427 70h1v1h-1zM431 70h1v1h-1zM438 70h9v1h-9zM449 70h1v1h-1zM452 70h1v1h-1zM455 70h1v1h-1zM463 70h1v1h-1zM467 70h1v1h-1zM470 70h1v1h-1zM473 70h1v1h-1zM476 70h1v1h-1zM478 70h2v1h-2zM482 70h1v1h-1zM485 70h1v1h-1zM489 70h1v1h-1zM499 70h1v1h-1zM503 70h1v1h-1zM413 71h1v1h-1zM416 71h1v1h-1zM420 71h1v1h-1zM422 71h1v1h-1zM426 71h8v1h-8zM436 71h3v1h-3zM441 71h1v1h-1zM443 71h1v1h-1zM452 71h1v1h-1zM455 71h1v1h-1zM461 71h7v1h-7zM470 71h1v1h-1zM473 71h4v1h-4zM478 71h2v1h-2zM482 71h1v1h-1zM486 71h8v1h-8zM498 71h1v1h-1zM504 71h2v1h-2zM413 72h1v1h-1zM415 72h1v1h-1zM420 72h1v1h-1zM422 72h1v1h-1zM425 72h2v1h-2zM432 72h1v1h-1zM434 72h1v1h-1zM438 72h1v1h-1zM441 72h1v1h-1zM443 72h4v1h-4zM453 72h2v1h-2zM463 72h1v1h-1zM467 72h1v1h-1zM470 72h1v1h-1zM473 72h1v1h-1zM476 72h1v1h-1zM478 72h1v1h-1zM480 72h2v1h-2zM489 72h1v1h-1zM493 72h1v1h-1zM496 72h5v1h-5zM503 72h4v1h-4zM413 73h1v1h-1zM422 73h1v1h-1zM426 73h1v1h-1zM432 73h1v1h-1zM438 73h1v1h-1zM441 73h1v1h-1zM443 73h1v1h-1zM453 73h2v1h-2zM463 73h1v1h-1zM466 73h1v1h-1zM470 73h1v1h-1zM473 73h1v1h-1zM476 73h1v1h-1zM478 73h1v1h-1zM480 73h1v1h-1zM488 73h1v1h-1zM493 73h1v1h-1zM497 73h1v1h-1zM500 73h1v1h-1zM502 73h1v1h-1zM505 73h1v1h-1zM413 74h1v1h-1zM422 74h1v1h-1zM426 74h1v1h-1zM432 74h1v1h-1zM438 74h1v1h-1zM440 74h1v1h-1zM442 74h2v1h-2zM451 74h2v1h-2zM455 74h2v1h-2zM461 74h5v1h-5zM470 74h1v1h-1zM472 74h1v1h-1zM476 74h1v1h-1zM478 74h1v1h-1zM480 74h2v1h-2zM487 74h1v1h-1zM493 74h1v1h-1zM497 74h1v1h-1zM500 74h1v1h-1zM502 74h1v1h-1zM505 74h1v1h-1zM413 75h1v1h-1zM420 75h3v1h-3zM427 75h6v1h-6zM437 75h3v1h-3zM444 75h3v1h-3zM449 75h2v1h-2zM457 75h2v1h-2zM469 75h1v1h-1zM472 75h1v1h-1zM475 75h2v1h-2zM478 75h2v1h-2zM482 75h1v1h-1zM485 75h2v1h-2zM491 75h2v1h-2zM498 75h3v1h-3zM503 75h3v1h-3zM573 178h1v1h-1zM564 179h1v1h-1zM573 179h1v1h-1zM576 179h1v1h-1zM578 179h1v1h-1zM564 180h1v1h-1zM573 180h1v1h-1zM576 180h1v1h-1zM578 180h1v1h-1zM581 180h1v1h-1zM560 181h10v1h-10zM572 181h3v1h-3zM576 181h1v1h-1zM578 181h1v1h-1zM580 181h2v1h-2zM563 182h3v1h-3zM573 182h1v1h-1zM576 182h4v1h-4zM581 182h1v1h-1zM563 183h2v1h-2zM566 183h1v1h-1zM573 183h1v1h-1zM575 183h2v1h-2zM578 183h1v1h-1zM581 183h1v1h-1zM562 184h1v1h-1zM564 184h1v1h-1zM567 184h1v1h-1zM573 184h1v1h-1zM576 184h1v1h-1zM578 184h1v1h-1zM581 184h1v1h-1zM561 185h1v1h-1zM564 185h1v1h-1zM567 185h1v1h-1zM573 185h1v1h-1zM576 185h1v1h-1zM578 185h1v1h-1zM581 185h1v1h-1zM561 186h1v1h-1zM564 186h1v1h-1zM568 186h1v1h-1zM573 186h2v1h-2zM576 186h1v1h-1zM578 186h1v1h-1zM580 186h1v1h-1zM560 187h1v1h-1zM562 187h6v1h-6zM569 187h1v1h-1zM572 187h1v1h-1zM576 187h1v1h-1zM564 188h1v1h-1zM576 188h1v1h-1zM581 188h1v1h-1zM577 189h4v1h-4zM560 191h1v1h-1zM563 191h7v1h-7zM572 191h9v1h-9zM561 192h1v1h-1zM563 192h1v1h-1zM573 192h1v1h-1zM580 192h1v1h-1zM563 193h1v1h-1zM566 193h1v1h-1zM572 193h1v1h-1zM576 193h1v1h-1zM580 193h1v1h-1zM563 194h1v1h-1zM565 194h5v1h-5zM572 194h3v1h-3zM576 194h1v1h-1zM580 194h1v1h-1zM560 195h1v1h-1zM563 195h2v1h-2zM569 195h1v1h-1zM572 195h1v1h-1zM574 195h1v1h-1zM576 195h1v1h-1zM580 195h1v1h-1zM561 196h1v1h-1zM563 196h7v1h-7zM572 196h1v1h-1zM574 196h1v1h-1zM577 196h5v1h-5zM563 197h2v1h-2zM569 197h1v1h-1zM572 197h1v1h-1zM574 197h1v1h-1zM581 197h1v1h-1zM563 198h1v1h-1zM565 198h5v1h-5zM572 198h1v1h-1zM574 198h1v1h-1zM576 198h6v1h-6zM561 199h2v1h-2zM565 199h2v1h-2zM572 199h3v1h-3zM581 199h1v1h-1zM560 200h1v1h-1zM562 200h1v1h-1zM564 200h1v1h-1zM566 200h1v1h-1zM569 200h1v1h-1zM572 200h1v1h-1zM581 200h1v1h-1zM560 201h1v1h-1zM562 201h1v1h-1zM564 201h1v1h-1zM566 201h1v1h-1zM569 201h1v1h-1zM572 201h1v1h-1zM579 201h2v1h-2zM565 202h2v1h-2zM478 276h1v1h-1zM469 277h1v1h-1zM478 277h1v1h-1zM481 277h1v1h-1zM483 277h1v1h-1zM469 278h1v1h-1zM478 278h1v1h-1zM481 278h1v1h-1zM483 278h1v1h-1zM486 278h1v1h-1zM465 279h10v1h-10zM477 279h3v1h-3zM481 279h1v1h-1zM483 279h1v1h-1zM485 279h2v1h-2zM468 280h3v1h-3zM478 280h1v1h-1zM481 280h4v1h-4zM486 280h1v1h-1zM468 281h2v1h-2zM471 281h1v1h-1zM478 281h1v1h-1zM480 281h2v1h-2zM483 281h1v1h-1zM486 281h1v1h-1zM467 282h1v1h-1zM469 282h1v1h-1zM472 282h1v1h-1zM478 282h1v1h-1zM481 282h1v1h-1zM483 282h1v1h-1zM486 282h1v1h-1zM466 283h1v1h-1zM469 283h1v1h-1zM472 283h1v1h-1zM478 283h1v1h-1zM481 283h1v1h-1zM483 283h1v1h-1zM486 283h1v1h-1zM466 284h1v1h-1zM469 284h1v1h-1zM473 284h1v1h-1zM478 284h2v1h-2zM481 284h1v1h-1zM483 284h1v1h-1zM485 284h1v1h-1zM465 285h1v1h-1zM467 285h6v1h-6zM474 285h1v1h-1zM477 285h1v1h-1zM481 285h1v1h-1zM469 286h1v1h-1zM481 286h1v1h-1zM486 286h1v1h-1zM482 287h4v1h-4zM465 289h1v1h-1zM468 289h7v1h-7zM477 289h9v1h-9zM466 290h1v1h-1zM468 290h1v1h-1zM478 290h1v1h-1zM485 290h1v1h-1zM468 291h1v1h-1zM471 291h1v1h-1zM477 291h1v1h-1zM481 291h1v1h-1zM485 291h1v1h-1zM468 292h1v1h-1zM470 292h5v1h-5zM477 292h3v1h-3zM481 292h1v1h-1zM485 292h1v1h-1zM465 293h1v1h-1zM468 293h2v1h-2zM474 293h1v1h-1zM477 293h1v1h-1zM479 293h1v1h-1zM481 293h1v1h-1zM485 293h1v1h-1zM466 294h1v1h-1zM468 294h7v1h-7zM477 294h1v1h-1zM479 294h1v1h-1zM482 294h5v1h-5zM468 295h2v1h-2zM474 295h1v1h-1zM477 295h1v1h-1zM479 295h1v1h-1zM486 295h1v1h-1zM468 296h1v1h-1zM470 296h5v1h-5zM477 296h1v1h-1zM479 296h1v1h-1zM481 296h6v1h-6zM466 297h2v1h-2zM470 297h2v1h-2zM477 297h3v1h-3zM486 297h1v1h-1zM465 298h1v1h-1zM467 298h1v1h-1zM469 298h1v1h-1zM471 298h1v1h-1zM474 298h1v1h-1zM477 298h1v1h-1zM486 298h1v1h-1zM465 299h1v1h-1zM467 299h1v1h-1zM469 299h1v1h-1zM471 299h1v1h-1zM474 299h1v1h-1zM477 299h1v1h-1zM484 299h2v1h-2zM470 300h2v1h-2zM342 344h1v1h-1zM333 345h1v1h-1zM342 345h1v1h-1zM345 345h1v1h-1zM347 345h1v1h-1zM333 346h1v1h-1zM342 346h1v1h-1zM345 346h1v1h-1zM347 346h1v1h-1zM350 346h1v1h-1zM329 347h10v1h-10zM341 347h3v1h-3zM345 347h1v1h-1zM347 347h1v1h-1zM349 347h2v1h-2zM332 348h3v1h-3zM342 348h1v1h-1zM345 348h4v1h-4zM350 348h1v1h-1zM332 349h2v1h-2zM335 349h1v1h-1zM342 349h1v1h-1zM344 349h2v1h-2zM347 349h1v1h-1zM350 349h1v1h-1zM331 350h1v1h-1zM333 350h1v1h-1zM336 350h1v1h-1zM342 350h1v1h-1zM345 350h1v1h-1zM347 350h1v1h-1zM350 350h1v1h-1zM330 351h1v1h-1zM333 351h1v1h-1zM336 351h1v1h-1zM342 351h1v1h-1zM345 351h1v1h-1zM347 351h1v1h-1zM350 351h1v1h-1zM330 352h1v1h-1zM333 352h1v1h-1zM337 352h1v1h-1zM342 352h2v1h-2zM345 352h1v1h-1zM347 352h1v1h-1zM349 352h1v1h-1zM329 353h1v1h-1zM331 353h6v1h-6zM338 353h1v1h-1zM341 353h1v1h-1zM345 353h1v1h-1zM333 354h1v1h-1zM345 354h1v1h-1zM350 354h1v1h-1zM346 355h4v1h-4zM329 357h1v1h-1zM332 357h7v1h-7zM341 357h9v1h-9zM330 358h1v1h-1zM332 358h1v1h-1zM342 358h1v1h-1zM349 358h1v1h-1zM332 359h1v1h-1zM335 359h1v1h-1zM341 359h1v1h-1zM345 359h1v1h-1zM349 359h1v1h-1zM332 360h1v1h-1zM334 360h5v1h-5zM341 360h3v1h-3zM345 360h1v1h-1zM349 360h1v1h-1zM329 361h1v1h-1zM332 361h2v1h-2zM338 361h1v1h-1zM341 361h1v1h-1zM343 361h1v1h-1zM345 361h1v1h-1zM349 361h1v1h-1zM330 362h1v1h-1zM332 362h7v1h-7zM341 362h1v1h-1zM343 362h1v1h-1zM346 362h5v1h-5zM332 363h2v1h-2zM338 363h1v1h-1zM341 363h1v1h-1zM343 363h1v1h-1zM350 363h1v1h-1zM332 364h1v1h-1zM334 364h5v1h-5zM341 364h1v1h-1zM343 364h1v1h-1zM345 364h6v1h-6zM330 365h2v1h-2zM334 365h2v1h-2zM341 365h3v1h-3zM350 365h1v1h-1zM329 366h1v1h-1zM331 366h1v1h-1zM333 366h1v1h-1zM335 366h1v1h-1zM338 366h1v1h-1zM341 366h1v1h-1zM350 366h1v1h-1zM329 367h1v1h-1zM331 367h1v1h-1zM333 367h1v1h-1zM335 367h1v1h-1zM338 367h1v1h-1zM341 367h1v1h-1zM348 367h2v1h-2zM334 368h2v1h-2z" fill="#ffffff"/>
<ellipse cx="37.0" cy="171.5" rx="18.3" ry="6.2" fill="none" stroke="#999999" stroke-width="0.95"/>
<path d="M18.7 177.5 A18.3 6.2 0 0 0 55.3 177.5" fill="none" stroke="#999999" stroke-width="0.95"/>
<path d="M18.7 173.5 L18.7 213.0 A18.3 6.2 0 0 0 55.3 213.0 L55.3 173.5" fill="none" stroke="#999999" stroke-width="1.1"/>
<ellipse cx="571.2" cy="162.2" rx="18.1" ry="6.2" fill="none" stroke="#999999" stroke-width="0.95"/>
<path d="M553.1 168.2 A18.1 6.2 0 0 0 589.3 168.2" fill="none" stroke="#999999" stroke-width="0.95"/>
<path d="M553.1 164.2 L553.1 204.0 A18.1 6.2 0 0 0 589.3 204.0 L589.3 164.2" fill="none" stroke="#999999" stroke-width="1.1"/>
<ellipse cx="476.9" cy="259.4" rx="18.2" ry="6.3" fill="none" stroke="#999999" stroke-width="0.95"/>
<path d="M458.7 265.4 A18.2 6.3 0 0 0 495.1 265.4" fill="none" stroke="#999999" stroke-width="0.95"/>
<path d="M458.7 261.4 L458.7 301.0 A18.2 6.3 0 0 0 495.1 301.0 L495.1 261.4" fill="none" stroke="#999999" stroke-width="1.1"/>
<ellipse cx="340.7" cy="329.2" rx="18.4" ry="6.3" fill="none" stroke="#999999" stroke-width="0.95"/>
<path d="M322.3 335.2 A18.4 6.3 0 0 0 359.1 335.2" fill="none" stroke="#999999" stroke-width="0.95"/>
<path d="M322.3 331.2 L322.3 371.0 A18.4 6.3 0 0 0 359.1 371.0 L359.1 331.2" fill="none" stroke="#999999" stroke-width="1.1"/>
<line x1="205.7" y1="113.3" x2="231.2" y2="145.9" stroke="#939393" stroke-width="1.05"/>
<path d="M231.2 145.9L221.2 137.2L225.2 134.1Z" fill="#000"/>
<line x1="290.3" y1="113.9" x2="281.0" y2="145.3" stroke="#939393" stroke-width="1.05"/>
<path d="M281.0 145.3L282.3 132.1L287.1 133.5Z" fill="#000"/>
<line x1="401.7" y1="113.7" x2="361.6" y2="149.7" stroke="#939393" stroke-width="1.05"/>
<path d="M361.6 149.7L369.6 139.2L372.9 142.9Z" fill="#000"/>
<line x1="192.5" y1="161.5" x2="428.0" y2="161.5" stroke="#939393" stroke-width="1.05"/>
<path d="M440.0 161.5L425.0 164.0L425.0 159.0Z" fill="#000"/>
<line x1="205.0" y1="176.0" x2="436.0" y2="176.0" stroke="#939393" stroke-width="1.05"/>
<path d="M193.6 175.6L208.6 173.1L208.6 178.1Z" fill="#000"/>
<line x1="193.1" y1="210.5" x2="353.7" y2="260.5" stroke="#939393" stroke-width="1.05"/>
<path d="M193.1 210.5L208.4 211.9L206.5 218.0Z" fill="#000"/>
<path d="M353.7 260.5L338.4 259.1L340.3 253.0Z" fill="#000"/>
<line x1="173.7" y1="236.7" x2="229.5" y2="303.3" stroke="#939393" stroke-width="1.05"/>
<path d="M173.7 236.7L185.8 246.1L180.9 250.3Z" fill="#000"/>
<path d="M229.5 303.3L217.4 293.9L222.3 289.7Z" fill="#000"/>
<filter id="soft" x="-5%" y="-5%" width="110%" height="110%"><feGaussianBlur stdDeviation="0.35"/></filter>
<g filter="url(#soft)">
<defs>
<linearGradient id="sideG" x1="0" y1="0" x2="1" y2="1">
<stop offset="0" stop-color="#4c4c4c"/><stop offset="0.4" stop-color="#3d3c3b"/><stop offset="1" stop-color="#333230"/>
</linearGradient>
<linearGradient id="frontG" x1="0" y1="0" x2="0" y2="1">
<stop offset="0" stop-color="#c6c6c6"/><stop offset="0.6" stop-color="#bebebe"/><stop offset="1" stop-color="#adadad"/>
</linearGradient>
<linearGradient id="stripG" x1="0" y1="0" x2="1" y2="0">
<stop offset="0" stop-color="#d2d2d2"/><stop offset="0.45" stop-color="#c6c6c6"/><stop offset="0.55" stop-color="#8a8a8a"/><stop offset="0.7" stop-color="#cfcfcf"/><stop offset="0.88" stop-color="#b8b8b8"/><stop offset="1" stop-color="#303030"/>
</linearGradient>
<linearGradient id="slotG" x1="0" y1="0" x2="1" y2="0">
<stop offset="0" stop-color="#2a2a2a"/><stop offset="0.5" stop-color="#1c1c1c"/><stop offset="1" stop-color="#262626"/>
</linearGradient>
<linearGradient id="bayG" x1="0" y1="0" x2="0" y2="1">
<stop offset="0" stop-color="#343434"/><stop offset="1" stop-color="#2c2c2c"/>
</linearGradient>
</defs>
<path d="M126 121.5 L160.6 134.8 L160.8 239.4 L126 252.6 Z" fill="url(#sideG)"/>
<path d="M126 121.3 L160.6 134.6" stroke="#262626" stroke-width="1.6" fill="none"/>
<path d="M160.4 134.8 L160.6 239.4" stroke="#2a2a2a" stroke-width="1" fill="none"/>
<path d="M126 252.4 L160.8 239.2" stroke="#2a2a2a" stroke-width="1" fill="none"/>
<path d="M69 123.4 L126.5 121.4 L126.5 252.6 L69 251.8 Z" fill="url(#frontG)"/>
<rect x="117" y="122" width="10" height="130.5" fill="url(#stripG)"/>
<path d="M69 123.6 L126.5 121.6" stroke="#1e1e1e" stroke-width="1.6" fill="none"/>
<path d="M69.6 123.5 L69.6 251.5" stroke="#555" stroke-width="0.9" fill="none"/>
<path d="M69 251.4 L126.5 252.2" stroke="#1e1e1e" stroke-width="1.5" fill="none"/>
<rect x="75" y="127" width="42" height="38" fill="url(#bayG)" stroke="#7e7e7e" stroke-width="0.9"/>
<rect x="75.5" y="127.5" width="41" height="12" fill="#393939"/>
<rect x="77.5" y="129.5" width="3.5" height="2.5" fill="#6a6a6a" opacity="0.8"/><rect x="84" y="130" width="20" height="2" fill="#4e4e4e"/><rect x="107" y="130" width="7" height="2" fill="#555"/>
<rect x="91" y="129.5" width="7" height="3" fill="#686868" opacity="0.8"/>
<rect x="79" y="134" width="35" height="0.9" fill="#8e8e8e"/>
<rect x="110" y="135.6" width="4.5" height="2" fill="#8a8a8a"/>
<rect x="75.5" y="139.5" width="41" height="0.8" fill="#262626"/>
<rect x="76" y="146" width="40" height="0.6" fill="#2e2e2e"/>
<rect x="81.7" y="154.7" width="28.6" height="8.3" fill="#2a2a2a" stroke="#555" stroke-width="0.6"/>
<rect x="83" y="156.5" width="26" height="1" fill="#4a4a4a"/>
<rect x="90.9" y="159.4" width="9.2" height="2.6" fill="#d8d8d8"/>
<rect x="103" y="160.3" width="3" height="1.5" fill="#9a9a9a"/>
<rect x="75" y="168.2" width="42.2" height="7.4" rx="1.2" fill="#363636" stroke="#6a6a6a" stroke-width="0.6"/>
<rect x="77" y="170" width="8" height="4" fill="#2a2a2a"/>
<rect x="86.5" y="169.5" width="3" height="2" fill="#888"/>
<rect x="86.5" y="172.5" width="3" height="2" fill="#888"/>
<rect x="96" y="171" width="2" height="2" fill="#5a5a5a"/>
<rect x="101" y="171" width="2" height="2" fill="#5a5a5a"/>
<rect x="105" y="172" width="2" height="1.5" fill="#777"/>
<rect x="109" y="170.5" width="6" height="3" fill="#4a4a4a"/>
<rect x="75.5" y="180" width="9.7" height="67" rx="4.8" fill="url(#slotG)" stroke="#7a7a7a" stroke-width="0.5"/>
<rect x="90.7" y="180" width="9.7" height="67" rx="4.8" fill="url(#slotG)" stroke="#7a7a7a" stroke-width="0.5"/>
<rect x="106.6" y="180" width="10.1" height="67" rx="4.8" fill="url(#slotG)" stroke="#7a7a7a" stroke-width="0.5"/>
<defs>
<linearGradient id="scrG" x1="0" y1="0" x2="1" y2="0.35">
<stop offset="0" stop-color="#4e4e4e"/><stop offset="0.14" stop-color="#383838"/><stop offset="0.42" stop-color="#202020"/><stop offset="1" stop-color="#151515"/>
</linearGradient>
<linearGradient id="towSideG" x1="0" y1="0" x2="1" y2="0">
<stop offset="0" stop-color="#585858"/><stop offset="1" stop-color="#3a3a3a"/>
</linearGradient>
<linearGradient id="towFrontG" x1="0" y1="0" x2="0" y2="1">
<stop offset="0" stop-color="#363636"/><stop offset="1" stop-color="#323232"/>
</linearGradient>
<linearGradient id="neckG" x1="0" y1="0" x2="1" y2="0">
<stop offset="0" stop-color="#4a4a4a"/><stop offset="0.3" stop-color="#1e1e1e"/><stop offset="1" stop-color="#141414"/>
</linearGradient>
<radialGradient id="mouseG" cx="0.55" cy="0.3" r="0.7">
<stop offset="0" stop-color="#707070"/><stop offset="0.35" stop-color="#303030"/><stop offset="1" stop-color="#141414"/>
</radialGradient>
<g id="pc">
<!-- tower -->
<path d="M499 151.5 L509.8 148.2 L510.8 195.2 L496.5 186.8 Z" fill="url(#towSideG)"/>
<path d="M509.6 147.9 L529.9 148.2 L530.6 194.6 L510.7 195.2 Z" fill="url(#towFrontG)"/>
<path d="M510.2 148 L511 195" stroke="#1a1a1a" stroke-width="1.2"/>
<path d="M509.8 148 L529.9 148.3" stroke="#222" stroke-width="0.8"/>
<rect x="512" y="150.3" width="17" height="1.4" fill="#222"/>
<rect x="512" y="151.7" width="17" height="3.6" fill="#333"/>
<rect x="512" y="155.2" width="17" height="0.9" fill="#6e6e6e"/>
<rect x="512" y="156.1" width="17" height="5.4" fill="#323232"/>
<rect x="512" y="161.5" width="17" height="0.9" fill="#666"/>
<path d="M512.2 150 L512.6 188 M528.8 150 L529 188" stroke="#4c4c4c" stroke-width="0.7"/>
<path d="M511.5 188.4 L530.5 188.2" stroke="#1c1c1c" stroke-width="1.2"/>
<rect x="511" y="189" width="19.5" height="5.6" fill="#3a3a3a"/>
<path d="M529.9 148.3 L530.6 194.6" stroke="#2a2a2a" stroke-width="0.8"/>
<!-- stand -->
<path d="M469.3 198.4 L472 196.6 L497 195.8 L498 198.4 L471.5 200.2 Z" fill="#181818"/>
<path d="M476.3 186.5 L490 185.5 L486.6 197.2 L473 197.6 Z" fill="url(#neckG)"/>
<path d="M477 187 L474 197" stroke="#5a5a5a" stroke-width="0.9"/>
<!-- monitor -->
<path d="M455.6 143.3 L497 147.3 L506.2 183 L464.5 187.8 Z" fill="#262626" stroke="#555" stroke-width="0.9" stroke-linejoin="round"/>
<path d="M459.3 145.9 L495.6 149.5 L503 181 L466.3 184.2 Z" fill="url(#scrG)" stroke="#1a1a1a" stroke-width="0.6"/>
<path d="M456 143.5 L497 147.5" stroke="#5e5e5e" stroke-width="0.8"/>
<path d="M497.2 147.6 L506.2 183" stroke="#5a5a5a" stroke-width="0.9"/>
<path d="M465 187.6 L506 182.9" stroke="#4a4a4a" stroke-width="0.8"/>
<!-- keyboard -->
<path d="M459.9 204.8 L461.2 203.4 L484.7 200.6 L506 197.9 L516.4 198 L524.8 199.7 L525.8 201.8 L506 207.8 L483 212.6 L460.6 206 Z" fill="#686868"/>
<path d="M463 203.9 L484.7 201.3 L506 198.7 L516.4 198.8 L523.6 200.3 L524 201.2 L506 205.6 L483 210.2 L463.5 204.8 Z" fill="#1e1e1e"/>
<path d="M466.0 204.6h1.6M468.6 204.4h1.6M471.2 204.1h1.6M473.8 203.9h1.6M476.4 203.7h1.6M479.0 203.4h1.6M481.6 203.2h1.6M484.2 202.9h1.6M486.8 202.7h1.6M489.4 202.5h1.6M492.0 202.2h1.6M494.6 202.0h1.6M497.2 201.8h1.6M499.8 201.5h1.6M502.4 201.3h1.6M505.0 201.1h1.6M507.6 200.8h1.6M510.2 200.6h1.6M512.8 200.3h1.6M515.4 200.1h1.6M518.0 199.9h1.6M470.3 206.2h1.6M472.9 205.9h1.6M475.5 205.7h1.6M478.1 205.4h1.6M480.7 205.1h1.6M483.3 204.9h1.6M485.9 204.6h1.6M488.5 204.3h1.6M491.1 204.1h1.6M493.7 203.8h1.6M496.3 203.6h1.6M498.9 203.3h1.6M501.5 203.1h1.6M504.1 202.8h1.6M506.7 202.5h1.6M509.3 202.3h1.6M511.9 202.0h1.6M514.5 201.8h1.6M517.1 201.5h1.6M519.7 201.2h1.6M475.6 207.7h1.6M478.2 207.4h1.6M480.8 207.0h1.6M483.4 206.7h1.6M486.0 206.4h1.6M488.6 206.1h1.6M491.2 205.8h1.6M493.8 205.4h1.6M496.4 205.1h1.6M499.0 204.8h1.6M501.6 204.5h1.6M504.2 204.1h1.6M506.8 203.8h1.6M509.4 203.5h1.6M512.0 203.2h1.6M514.6 202.9h1.6M517.2 202.5h1.6M519.8 202.2h1.6M481.9 208.9h1.6M484.5 208.4h1.6M487.1 207.9h1.6M489.7 207.5h1.6M492.3 207.0h1.6M494.9 206.5h1.6M497.5 206.0h1.6M500.1 205.6h1.6M502.7 205.1h1.6M505.3 204.6h1.6M507.9 204.1h1.6M510.5 203.7h1.6M513.1 203.2h1.6" stroke="#4a4a4a" stroke-width="0.9" fill="none"/>
<path d="M460.8 205.8 L483 212.2 L506 207.4 L525.6 202.1" stroke="#8a8a8a" stroke-width="0.9" fill="none"/>
<!-- mouse -->
<path d="M525.5 201.5 Q527 201.2 528.5 201.4" stroke="#333" stroke-width="0.6" fill="none"/>
<ellipse cx="536.3" cy="201.7" rx="8.2" ry="3.9" transform="rotate(8 536.3 201.7)" fill="url(#mouseG)"/>
</g>
</defs>
<use href="#pc"/>
<use href="#pc" transform="translate(-94.5,97.3)"/>
<use href="#pc" transform="translate(-230.3,166.7)"/>
</g>
<text x="77.40" y="269.20" font-size="15.50"  textLength="44.10" lengthAdjust="spacingAndGlyphs" fill="#fff" stroke="#fff" stroke-width="0.55" style="font-family:'Liberation Sans',sans-serif">Server</text>
<text x="505.60" y="225.40" font-size="15.30"  textLength="39.00" lengthAdjust="spacingAndGlyphs" fill="#fff" stroke="#fff" stroke-width="0.55" style="font-family:'Liberation Sans',sans-serif">User1</text>
<text x="406.80" y="322.40" font-size="15.30"  textLength="40.40" lengthAdjust="spacingAndGlyphs" fill="#fff" stroke="#fff" stroke-width="0.55" style="font-family:'Liberation Sans',sans-serif">User2</text>
<text x="266.80" y="393.20" font-size="15.30"  textLength="39.80" lengthAdjust="spacingAndGlyphs" fill="#fff" stroke="#fff" stroke-width="0.55" style="font-family:'Liberation Sans',sans-serif">User3</text>
<text x="217.80" y="156.20" font-size="10.00" font-weight="bold" textLength="76.80" lengthAdjust="spacingAndGlyphs" fill="#fff" stroke="#fff" stroke-width="0.40" style="font-family:'Liberation Sans',sans-serif">checkout,update</text>
<text x="329.20" y="171.90" font-size="9.60" font-weight="bold" textLength="34.80" lengthAdjust="spacingAndGlyphs" fill="#fff" stroke="#fff" stroke-width="0.40" style="font-family:'Liberation Sans',sans-serif">commlt</text>
<text x="26.60" y="196.60" font-size="9.50" font-weight="bold" textLength="20.00" lengthAdjust="spacingAndGlyphs" fill="#fff" stroke="#fff" stroke-width="0.40" style="font-family:'Liberation Sans',sans-serif">SVN</text>
<text x="13.00" y="207.20" font-size="9.50" font-weight="bold" textLength="46.40" lengthAdjust="spacingAndGlyphs" fill="#fff" stroke="#fff" stroke-width="0.40" style="font-family:'Liberation Sans',sans-serif">repozilory</text>
</svg>

</div></body></html>
